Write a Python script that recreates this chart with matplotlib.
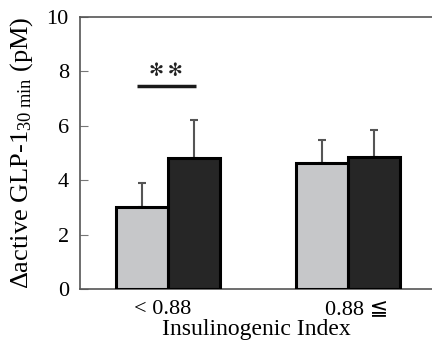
import matplotlib
matplotlib.use("Agg")
import matplotlib.pyplot as plt
import numpy as np

plt.rcParams['font.family'] = ['Liberation Serif', 'DejaVu Sans']
plt.rcParams['mathtext.fontset'] = 'custom'
plt.rcParams['mathtext.rm'] = 'Liberation Serif'
plt.rcParams['mathtext.it'] = 'Liberation Serif:italic'

categories = ['< 0.88', '0.88 \u2266']
gray_vals = [3.0, 4.65]
gray_err = [0.9, 0.83]
black_vals = [4.83, 4.87]
black_err = [1.38, 0.98]
sig_y = 7.46
sig_label = '\u273b\u2009\u273b'

fig = plt.figure(figsize=(4.32, 3.49), dpi=100)
ax = fig.add_axes([0.185, 0.172, 0.815, 0.779])

x = np.arange(len(categories))
w = 0.289
ax.bar(x - w/2, gray_vals, w, color='#c6c7c9', edgecolor='black', linewidth=2.2, zorder=3)
ax.bar(x + w/2, black_vals, w, color='#262626', edgecolor='black', linewidth=2.2, zorder=3)
ax.errorbar(x - w/2, gray_vals, yerr=[np.zeros(2), gray_err], fmt='none', ecolor='#555555',
            elinewidth=1.5, capsize=3, capthick=1.5, zorder=2)
ax.errorbar(x + w/2, black_vals, yerr=[np.zeros(2), black_err], fmt='none', ecolor='#555555',
            elinewidth=1.5, capsize=3, capthick=1.5, zorder=2)

ax.plot([-0.172, 0.156], [sig_y, sig_y], color='#1a1a1a', lw=2.5, solid_capstyle='butt')
ax.text(-0.01, sig_y + 0.22, sig_label, ha='center', va='bottom', fontsize=13,
        family=['DejaVu Sans'], color='#222222')

ax.set_xlim(-0.489, 1.467)
ax.set_ylim(0, 10)
ax.set_yticks([0, 2, 4, 6, 8, 10])
ax.set_xticks(x + np.array([-0.03, 0.05]))
ax.set_xticklabels(categories, fontsize=16)
ax.tick_params(axis='y', direction='in', length=6, color='#777777', labelsize=16, pad=8)
ax.tick_params(axis='x', length=0, pad=8)
ax.set_xlabel('Insulinogenic Index', fontsize=17, labelpad=0)
ax.set_ylabel('\u0394active GLP-1$_{\\mathrm{30\\ min}}$ (pM)', fontsize=19, labelpad=8)

for s in ['left', 'top', 'bottom']:
    ax.spines[s].set_color('#555555')
    ax.spines[s].set_linewidth(1.2)
ax.spines['right'].set_visible(False)

fig.savefig('out.png', dpi=100)
